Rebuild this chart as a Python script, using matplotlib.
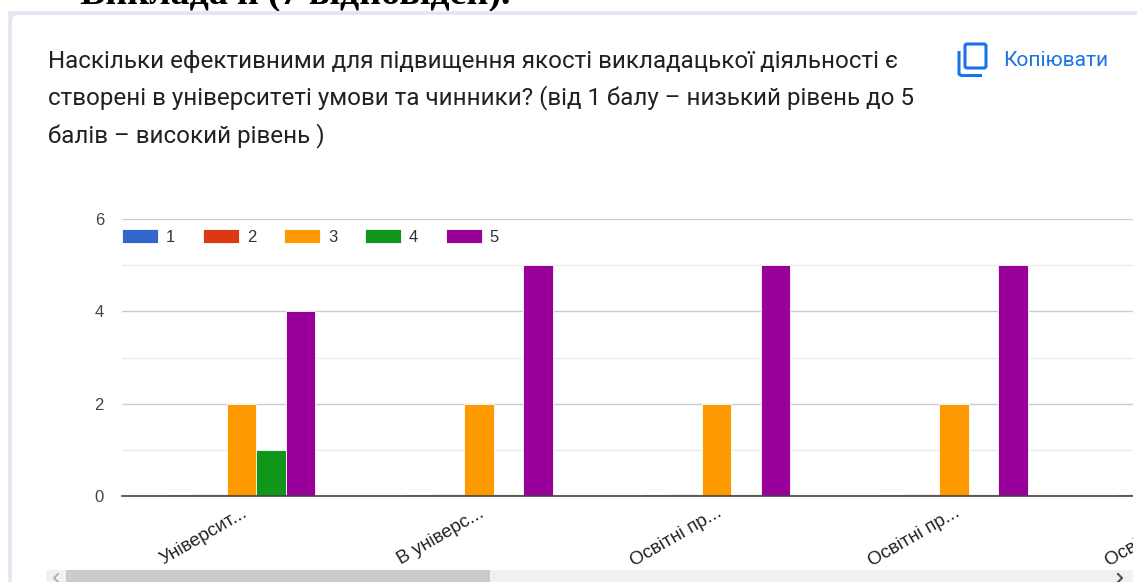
import matplotlib
matplotlib.use("Agg")
import matplotlib.pyplot as plt
from matplotlib.patches import FancyBboxPatch, Rectangle

W, H = 1137, 582
categories = ["Університ...", "В універс...", "Освітні пр...", "Освітні пр...", "Освітні пр..."]
series_names = ["1", "2", "3", "4", "5"]
series_values = {
    "1": [0, 0, 0, 0, 0],
    "2": [0, 0, 0, 0, 0],
    "3": [2, 2, 2, 2, 2],
    "4": [1, 0, 0, 0, 0],
    "5": [4, 5, 5, 5, 5],
}
colors = ["#3366cc", "#dc3912", "#ff9900", "#109618", "#990099"]
y_ticks = [0, 2, 4, 6]
y_minor = [1, 3, 5]
heading = "Викладачі (7 відповідей)."
question = ("Наскільки ефективними для підвищення якості викладацької діяльності є\n"
            "створені в університеті умови та чинники? (від 1 балу – низький рівень до 5\n"
            "балів – високий рівень )")

plt.rcParams["font.family"] = ["Roboto", "DejaVu Sans"]
fig = plt.figure(figsize=(W / 100, H / 100), dpi=100, facecolor="white")

# page layer in pixel coordinates
bg = fig.add_axes([0, 0, 1, 1])
bg.set_xlim(0, W)
bg.set_ylim(H, 0)
bg.axis("off")
bg.text(80, 4, heading, family="Liberation Serif", weight="bold", fontsize=27.4,
        color="black", va="baseline", ha="left", zorder=1)
bg.add_patch(Rectangle((8, 11), W - 8, H - 11, fc="#e9e7f5", ec="none", zorder=2))
bg.add_patch(FancyBboxPatch((14, 17), W + 20, H + 20, boxstyle="round,pad=3,rounding_size=8",
                            fc="white", ec="#dcdce4", lw=0.8, zorder=3))
bg.text(48, 99, question, fontsize=17.4, color="#202124", va="center", ha="left",
        linespacing=1.65, zorder=4)
bg.text(1003, 61, "Копіювати", fontsize=15, color="#1a73e8", va="center", ha="left", zorder=4)
# copy icon
bg.add_patch(FancyBboxPatch((965, 44), 21, 24, boxstyle="round,pad=0,rounding_size=2",
                            fc="none", ec="#1a73e8", lw=2.2, zorder=4))
bg.plot([959, 959, 961, 982], [51, 74, 75.5, 75.5], color="#1a73e8", lw=2.2,
        solid_capstyle="butt", zorder=4)

# chart: axes run past the page edge so the fifth group is cut off as in the screenshot
L, R, T, B = 122, 1310, 219, 496
ax = fig.add_axes([L / W, 1 - B / H, (R - L) / W, (B - T) / H])
ax.patch.set_alpha(0)
step = 237.5
first = 241.5
bar_w = 29.4 / step
for i, (name, col) in enumerate(zip(series_names, colors)):
    vals = series_values[name]
    xs = [k + (i - 2) * bar_w for k in range(len(vals))]
    ax.bar(xs, vals, width=bar_w, color=col, edgecolor="white", linewidth=0.6, zorder=3,
           label=name)
    for x, v in zip(xs, vals):
        if v == 0:
            ax.plot([x - bar_w / 2, x + bar_w / 2], [0.012, 0.012], color=col, lw=1,
                    alpha=0.3, zorder=4)

ax.set_yticks(y_ticks)
ax.set_yticks(y_minor, minor=True)
ax.set_xticks(range(len(categories)))
ax.set_xticklabels(categories, rotation=30, ha="right", rotation_mode="anchor",
                   fontsize=13.5, color="#222222", family="Liberation Sans")
ax.set_xlim((L - first) / step, (R - first) / step)
ax.set_ylim(0, 6)
ax.grid(True, axis="y", which="major", color="#cccccc", lw=1, zorder=0)
ax.grid(True, axis="y", which="minor", color="#ebebeb", lw=1, zorder=0)
ax.grid(False, axis="x")
ax.tick_params(axis="both", which="both", length=0)
ax.tick_params(axis="y", labelsize=12, labelcolor="#444444", pad=13)
ax.tick_params(axis="x", pad=6)
for lab in ax.get_yticklabels():
    lab.set_family("Liberation Sans")
for s in ["top", "right", "left"]:
    ax.spines[s].set_visible(False)
ax.spines["bottom"].set_color("#444444")
ax.spines["bottom"].set_linewidth(1.2)
ax.spines["bottom"].set_zorder(5)

ax.legend(loc="upper left", bbox_to_anchor=(0, 0.964), ncol=5, frameon=False,
          handlelength=2.16, handleheight=0.96, handletextpad=0.48,
          columnspacing=1.66, borderaxespad=0, borderpad=0, labelcolor="#333333",
          prop={"family": "Liberation Sans", "size": 12})

# top layer: right edge mask and scrollbar
top = fig.add_axes([0, 0, 1, 1], zorder=10)
top.set_xlim(0, W)
top.set_ylim(H, 0)
top.axis("off")
top.patch.set_alpha(0)
top.add_patch(Rectangle((1133, 15), W - 1133, H - 15, fc="white", ec="none"))
top.add_patch(Rectangle((46, 570), 1087, 12, fc="#f1f1f1", ec="none"))
top.add_patch(Rectangle((66, 570), 424, 12, fc="#cbcbcb", ec="none"))
top.plot([58, 54, 58], [574, 578, 582], color="#a8a8a8", lw=1.2)
top.plot([1118, 1122, 1118], [574, 578, 582], color="#505050", lw=1.5)

fig.savefig("out.png", dpi=100)
